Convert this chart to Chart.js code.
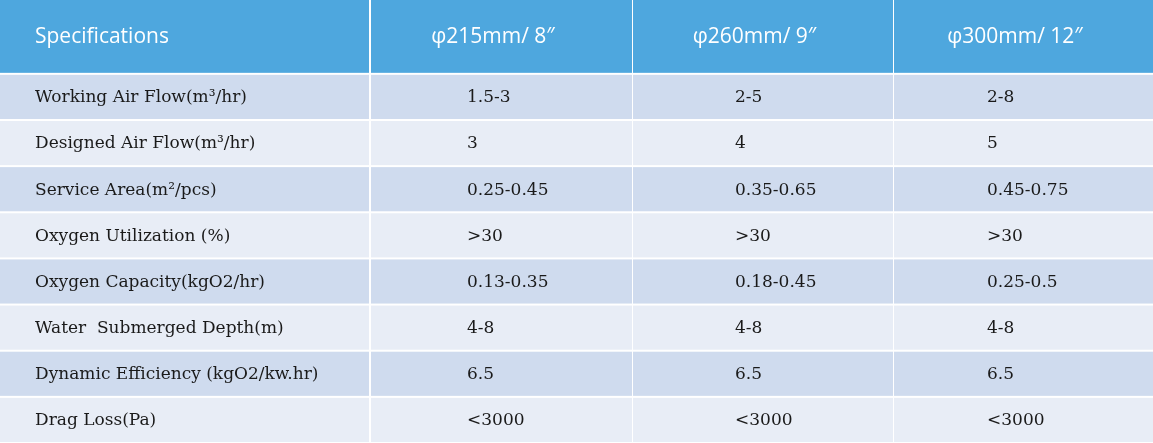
<!DOCTYPE html>
<html><head><meta charset="utf-8">
<script src="https://cdn.jsdelivr.net/npm/chart.js@4"></script>
<style>html,body{margin:0;padding:0;background:#fff}#wrap{width:1153px;height:443px}</style>
</head><body><div id="wrap"><canvas id="chart"></canvas></div>
<script>
var headers = ['Specifications', 'φ215mm/ 8″', 'φ260mm/ 9″', 'φ300mm/ 12″'];
var specs = ['Working Air Flow(m³/hr)', 'Designed Air Flow(m³/hr)', 'Service Area(m²/pcs)', 'Oxygen Utilization (%)',
  'Oxygen Capacity(kgO2/hr)', 'Water  Submerged Depth(m)', 'Dynamic Efficiency (kgO2/kw.hr)', 'Drag Loss(Pa)'];
var size215 = ['1.5-3', '3', '0.25-0.45', '>30', '0.13-0.35', '4-8', '6.5', '<3000'];
var size260 = ['2-5', '4', '0.35-0.65', '>30', '0.18-0.45', '4-8', '6.5', '<3000'];
var size300 = ['2-8', '5', '0.45-0.75', '>30', '0.25-0.5', '4-8', '6.5', '<3000'];

// layout: column edges on x scale, header takes 1.6 row units
var colEdges = [0, 370, 632, 893, 1153];
var headerUnits = 1.6;
var textX = [35, 467, 735, 987];

var tablePlugin = {
  id: 'table',
  beforeDatasetsDraw: function(chart) {
    var c = chart.ctx, xs = chart.scales.x, ys = chart.scales.y;
    var cols = [specs, size215, size260, size300];
    c.save();
    // header row
    for (var i = 0; i < 4; i++) {
      var x0 = xs.getPixelForValue(colEdges[i]), x1 = xs.getPixelForValue(colEdges[i + 1]);
      var y0 = ys.getPixelForValue(0), y1 = ys.getPixelForValue(headerUnits);
      c.fillStyle = '#4ea7de';
      c.fillRect(x0 + (i ? 1 : 0), y0, x1 - x0 - 1, y1 - y0 - 1);
      c.fillStyle = '#fff';
      c.font = '21px "Open Sans", sans-serif';
      c.textBaseline = 'middle';
      if (i == 0) { c.textAlign = 'left'; c.fillText(headers[i], textX[0], (y0 + y1) / 2); }
      else { c.textAlign = 'center'; c.fillText(headers[i], (x0 + x1) / 2 - 8, (y0 + y1) / 2); }
    }
    // body rows
    for (var r = 0; r < specs.length; r++) {
      var top = ys.getPixelForValue(headerUnits + r), bot = ys.getPixelForValue(headerUnits + r + 1);
      for (var i = 0; i < 4; i++) {
        var x0 = xs.getPixelForValue(colEdges[i]), x1 = xs.getPixelForValue(colEdges[i + 1]);
        c.fillStyle = r % 2 == 0 ? '#cfdbee' : '#e8edf6';
        c.fillRect(x0 + (i ? 1 : 0), top + 1, x1 - x0 - 1, bot - top - 2);
        c.fillStyle = '#1a1a1a';
        c.font = '17px "DejaVu Serif", serif';
        c.textAlign = 'left';
        c.textBaseline = 'middle';
        c.fillText(cols[i][r], textX[i], (top + bot) / 2 + 1);
      }
    }
    c.restore();
  }
};

new Chart(document.getElementById('chart'), {
  type: 'scatter',
  data: { datasets: [{ data: [] }] },
  options: {
    responsive: true, maintainAspectRatio: false, animation: false,
    layout: { padding: 0 },
    plugins: { legend: { display: false }, tooltip: { enabled: false } },
    scales: {
      x: { type: 'linear', min: colEdges[0], max: colEdges[4], display: false },
      y: { type: 'linear', min: 0, max: headerUnits + specs.length, reverse: true, display: false }
    }
  },
  plugins: [tablePlugin]
});
</script></body></html>
